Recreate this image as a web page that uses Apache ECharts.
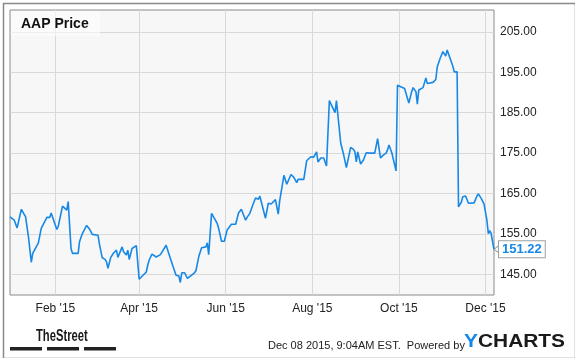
<!DOCTYPE html>
<html>
<head>
<meta charset="utf-8">
<script src="https://cdn.jsdelivr.net/npm/echarts@6/dist/echarts.min.js"></script>
<style>
html,body{margin:0;padding:0;background:#fff;}
#c{width:575px;height:358px;}
</style>
</head>
<body>
<div id="c"></div>
<script>
var titleText = 'AAP Price';
var lastLabel = '151.22';
var dates = [
'2014-12-31','2015-01-03','2015-01-05','2015-01-06','2015-01-08','2015-01-11','2015-01-12','2015-01-13','2015-01-15','2015-01-16','2015-01-20','2015-01-22','2015-01-23','2015-01-26','2015-01-28','2015-01-29',
'2015-02-02','2015-02-03','2015-02-04','2015-02-06','2015-02-07','2015-02-09','2015-02-10','2015-02-11','2015-02-12','2015-02-13','2015-02-17','2015-02-18','2015-02-19','2015-02-20','2015-02-23','2015-02-25','2015-02-27',
'2015-03-03','2015-03-04','2015-03-05','2015-03-06','2015-03-08','2015-03-09','2015-03-10','2015-03-12','2015-03-14','2015-03-16','2015-03-17','2015-03-20','2015-03-21','2015-03-23','2015-03-24','2015-03-25','2015-03-27','2015-03-30','2015-03-31',
'2015-04-01','2015-04-02','2015-04-06','2015-04-07','2015-04-08','2015-04-09','2015-04-10','2015-04-13','2015-04-14','2015-04-16','2015-04-17','2015-04-20','2015-04-21','2015-04-23','2015-04-24','2015-04-25','2015-04-27','2015-04-29','2015-04-30',
'2015-05-01','2015-05-03','2015-05-05','2015-05-10','2015-05-11','2015-05-13','2015-05-15','2015-05-18','2015-05-19','2015-05-20','2015-05-22','2015-05-26','2015-05-27','2015-05-29','2015-05-31',
'2015-06-02','2015-06-05','2015-06-08','2015-06-10','2015-06-12','2015-06-15','2015-06-16','2015-06-18','2015-06-20','2015-06-22','2015-06-24','2015-06-25','2015-06-29','2015-06-30',
'2015-07-01','2015-07-03','2015-07-06','2015-07-08','2015-07-09','2015-07-12','2015-07-14','2015-07-17','2015-07-19','2015-07-21','2015-07-22','2015-07-26','2015-07-28','2015-07-31',
'2015-08-02','2015-08-04','2015-08-05','2015-08-07','2015-08-09','2015-08-11','2015-08-12','2015-08-13','2015-08-17','2015-08-18','2015-08-21','2015-08-23','2015-08-25','2015-08-26','2015-08-28','2015-08-30','2015-08-31',
'2015-09-01','2015-09-02','2015-09-04','2015-09-06','2015-09-08','2015-09-10','2015-09-14','2015-09-16','2015-09-18','2015-09-20','2015-09-22','2015-09-23','2015-09-24','2015-09-26','2015-09-29','2015-09-30',
'2015-10-01','2015-10-05','2015-10-06','2015-10-08','2015-10-10','2015-10-11','2015-10-13','2015-10-14','2015-10-15','2015-10-18','2015-10-20','2015-10-21','2015-10-25','2015-10-27','2015-10-28','2015-10-30',
'2015-11-01','2015-11-03','2015-11-04','2015-11-08','2015-11-09','2015-11-10','2015-11-11','2015-11-12','2015-11-14','2015-11-15','2015-11-17','2015-11-19','2015-11-20','2015-11-23','2015-11-25','2015-11-26','2015-11-28','2015-11-30',
'2015-12-02','2015-12-03','2015-12-04','2015-12-05','2015-12-06','2015-12-07'
];
var prices = [
159.2,158.4,156.5,156.4,161.1,159.2,158.8,154.3,148.0,150.2,152.8,156.4,156.0,159.1,159.1,160.2,
156.1,156.9,156.5,161.9,161.6,160.9,163.0,162.6,151.4,150.2,150.2,153.1,153.1,155.1,157.1,156.2,154.9,
154.7,152.5,152.7,149.1,148.7,148.1,146.5,149.2,150.3,151.0,149.2,151.8,150.6,149.8,151.0,148.7,151.4,152.1,151.8,
143.8,144.0,145.6,147.2,148.5,148.1,150.0,149.3,149.1,149.9,149.9,152.2,152.2,148.9,148.5,146.8,144.8,144.6,143.0,
145.4,145.4,144.0,145.4,145.9,149.4,151.6,151.8,152.8,149.9,160.1,157.6,156.4,153.2,153.2,
156.0,157.4,157.4,160.2,161.1,158.4,159.1,160.1,162.1,163.9,163.6,164.4,158.9,159.0,
162.6,162.4,163.5,159.9,163.2,169.5,167.3,169.7,169.0,167.7,168.5,168.5,173.1,174.1,
174.0,175.3,172.8,173.8,173.8,171.8,171.8,188.0,185.0,188.0,177.5,174.7,171.4,171.4,176.4,175.9,175.3,
172.8,175.3,172.3,173.3,175.1,175.0,175.0,178.6,173.8,174.5,175.0,175.8,177.0,175.1,170.6,191.8,
191.8,191.0,190.8,187.4,190.2,191.2,190.2,187.1,190.6,191.2,193.6,192.2,192.5,193.2,196.3,198.4,
200.1,199.0,200.5,196.5,195.1,194.9,195.1,161.7,162.9,164.2,164.4,162.6,162.7,162.7,164.4,164.9,163.8,162.4,
158.4,155.1,155.8,155.1,153.1,151.22
];
var xTickDates = ['2015-02-01','2015-04-01','2015-06-01','2015-08-01','2015-10-01','2015-12-01'];
var monthNames = ['Jan','Feb','Mar','Apr','May','Jun','Jul','Aug','Sep','Oct','Nov','Dec'];
var yTicks = [145,155,165,175,185,195,205];
var xMin = '2014-12-31', xMax = '2015-12-07';
var yMin = 139.9, yMax = 210.4;

function ts(s){var p=s.split('-');return new Date(+p[0],+p[1]-1,+p[2]).getTime();}
var lineColor = '#1788e6';
var data = dates.map(function(d,i){return [ts(d),prices[i]];});
var last = data[data.length-1];

var chart = echarts.init(document.getElementById('c'), null, {renderer:'canvas'});
chart.setOption({
  animation:false,
  textStyle:{fontFamily:'Arial, "Liberation Sans", sans-serif'},
  grid:{left:10, top:10, right:81, bottom:63, show:true, backgroundColor:'#f7f7f7', borderColor:'#8a8a8a', borderWidth:1, containLabel:false},
  xAxis:{
    type:'value', min:ts(xMin), max:ts(xMax), scale:true,
    axisLine:{show:false}, axisTick:{show:false, customValues:xTickDates.map(ts)},
    axisLabel:{customValues:xTickDates.map(ts), color:'#222', fontSize:12, margin:8,
      formatter:function(v){var d=new Date(v);return monthNames[d.getMonth()]+" '"+String(d.getFullYear()).slice(2);}},
    splitLine:{show:true, lineStyle:{color:'#d9d9d9', width:1}}
  },
  yAxis:{
    type:'value', position:'right', min:yMin, max:yMax, scale:true,
    axisLine:{show:false}, axisTick:{show:false, customValues:yTicks},
    axisLabel:{customValues:yTicks, color:'#222', fontSize:12, margin:6, formatter:function(v){return v.toFixed(2);}},
    splitLine:{show:true, lineStyle:{color:'#d9d9d9', width:1}}
  },
  series:[{
    type:'line', data:data, showSymbol:false, symbol:'none',
    lineStyle:{color:lineColor, width:1.6},
    z:5,
    endLabel:{show:true, formatter:lastLabel, distance:5, color:lineColor, fontWeight:'bold', fontSize:13,
      backgroundColor:'#fff', borderColor:'#a0a0a0', borderWidth:1, padding:[2,3,1,3]},
    markPoint:{silent:true, symbol:'triangle', symbolRotate:90, symbolSize:[9,6], symbolOffset:[3,0],
      itemStyle:{color:'#fff', borderColor:'#a0a0a0', borderWidth:1}, label:{show:false},
      data:[{coord:last}]}
  }],
  graphic:[
    {type:'rect', left:1, top:1, shape:{x:0,y:0,width:572,height:355}, style:{fill:'none', stroke:'#8a8a8a', lineWidth:1.5}, silent:true, z:100},
    {type:'rect', shape:{x:11,y:11,width:89,height:25}, style:{fill:'rgba(255,255,255,0.55)'}, z:10},
    {type:'text', x:21, y:24, style:{text:titleText, font:'bold 14px Arial, "Liberation Sans"', fill:'#111', verticalAlign:'middle'}, z:11},
    {type:'text', x:36, y:336, scaleX:0.66, style:{text:'TheStreet', font:'bold 17px Arial, "Liberation Sans"', fill:'#1a1a1a', verticalAlign:'middle'}, z:11},
    {type:'rect', shape:{x:10,y:347,width:32,height:3.5}, style:{fill:'#222'}},
    {type:'rect', shape:{x:47,y:347,width:32,height:3.5}, style:{fill:'#222'}},
    {type:'rect', shape:{x:84,y:347,width:32,height:3.5}, style:{fill:'#222'}},
    {type:'text', x:268, y:346, style:{text:'Dec 08 2015, 9:04AM EST.  Powered by', font:'11px Arial, "Liberation Sans"', fill:'#222', verticalAlign:'middle'}},
    {type:'text', x:464, y:342, scaleX:1.1, style:{text:'{y|Y}{c|CHARTS}', verticalAlign:'middle', rich:{
      y:{font:'bold 19px Arial, "Liberation Sans"', fill:'#1788e6'},
      c:{font:'bold 19px Arial, "Liberation Sans"', fill:'#1a1a1a'}}}}
  ]
});
</script>
</body>
</html>
